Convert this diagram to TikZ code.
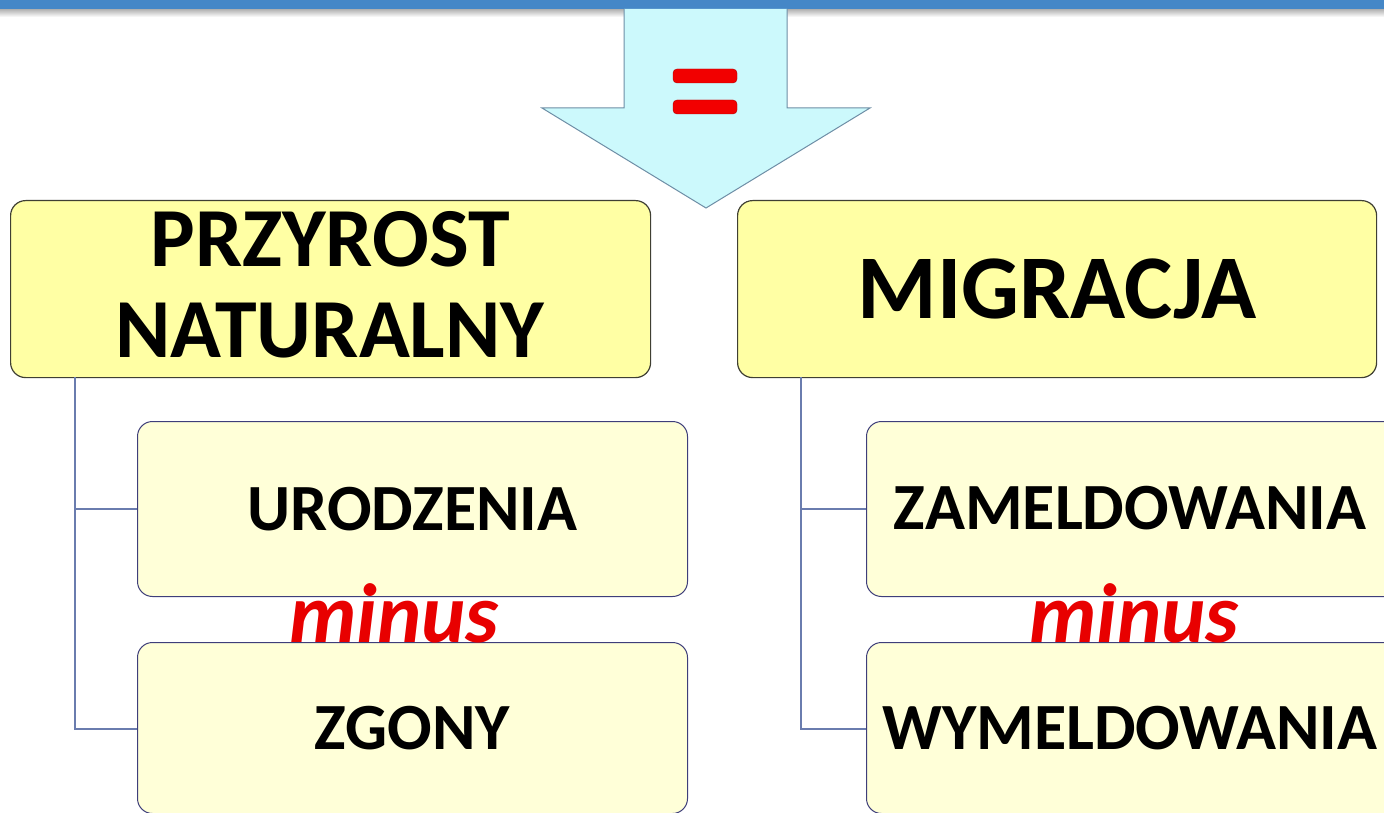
\documentclass[tikz,border=0pt]{standalone}
\usepackage{fontspec}
\setmainfont{Carlito}
\usetikzlibrary{calc}
\definecolor{barblue}{HTML}{4587C7}
\definecolor{arrowfill}{HTML}{CCF9FC}
\definecolor{arrowline}{HTML}{6E8EA6}
\definecolor{mainfill}{HTML}{FFFFA4}
\definecolor{subfill}{HTML}{FFFFD8}
\definecolor{mainline}{HTML}{3F3F33}
\definecolor{subline}{HTML}{3E3E7A}
\definecolor{conn}{HTML}{6A7CAE}
\definecolor{minusred}{HTML}{E80000}
\begin{document}
\begin{tikzpicture}[x=1pt,y=-1pt,
  mainbox/.style={draw=mainline,line width=1.2pt,fill=mainfill,rounded corners=15pt,
    anchor=north west,inner sep=0pt,align=center,font=\bfseries},
  subbox/.style={draw=subline,line width=1pt,fill=subfill,rounded corners=15pt,
    anchor=north west,inner sep=0pt,align=center,font=\fontsize{66}{70}\selectfont\bfseries},
  connector/.style={draw=conn,line width=1.1pt},
  minuslabel/.style={text=minusred,font=\fontsize{84}{84}\selectfont\bfseries\itshape,inner sep=0pt}]
\useasboundingbox (0,0) rectangle (1384,813);
\fill[white] (0,0) rectangle (1384,813);
% top bar with shadow
\shade[top color=gray!70, bottom color=white] (0,8) rectangle (1384,17);
\fill[barblue] (0,0) rectangle (1384,9);
% arrow
\filldraw[fill=arrowfill,draw=arrowline,line width=1pt]
  (624,9) -- (624,108) -- (542,108) -- (706,208) -- (870,108) -- (787,108) -- (787,9);
% equals sign
\filldraw[fill=red!95!black,draw=red!70!black,line width=0.4pt,rounded corners=4pt]
  (673,69) rectangle (737,83);
\filldraw[fill=red!95!black,draw=red!70!black,line width=0.4pt,rounded corners=4pt]
  (673,100) rectangle (737,114);
% main boxes
\node[mainbox,minimum width=640pt,minimum height=177pt] (pn) at (10,200) {};
\node[font=\fontsize{84}{91}\selectfont\bfseries,align=center,inner sep=0pt,anchor=base]
  (pnt) at (330,357) {PRZYROST\\NATURALNY};
\node[mainbox,minimum width=639pt,minimum height=177pt,
  font=\fontsize{91}{100}\selectfont\bfseries] (mig) at (737,200) {MIGRACJA};
% connectors (behind sub boxes)
\coordinate (lt) at (75,377);
\coordinate (rt) at (801,377);
\coordinate (lb) at (75,729);
\coordinate (rb) at (801,729);
\draw[connector] (lt) -- (lb) -- (137,729);
\draw[connector] (75,509) -- (137,509);
\draw[connector] (rt) -- (rb) -- (866,729);
\draw[connector] (801,509) -- (866,509);
% sub boxes
\node[subbox,minimum width=550pt,minimum height=175pt] (ur) at (137,421) {URODZENIA};
\node[subbox,minimum width=550pt,minimum height=171pt] (zg) at (137,642) {ZGONY};
\node[subbox,minimum width=550pt,minimum height=175pt] (zam) at (866,421) {};
\node[subbox,minimum width=550pt,minimum height=171pt] (wym) at (866,642) {};
\node[font=\fontsize{66}{70}\selectfont\bfseries,inner sep=0pt] (zamt) at (1130,508) {ZAMELDOWANIA};
\node[font=\fontsize{66}{70}\selectfont\bfseries,inner sep=0pt] (wymt) at (1130,728) {WYMELDOWANIA};
% minus labels
\node[minuslabel,anchor=base] (m1) at (394,642) {minus};
\node[minuslabel,anchor=base] (m2) at (1134,642) {minus};
\end{tikzpicture}
\end{document}
